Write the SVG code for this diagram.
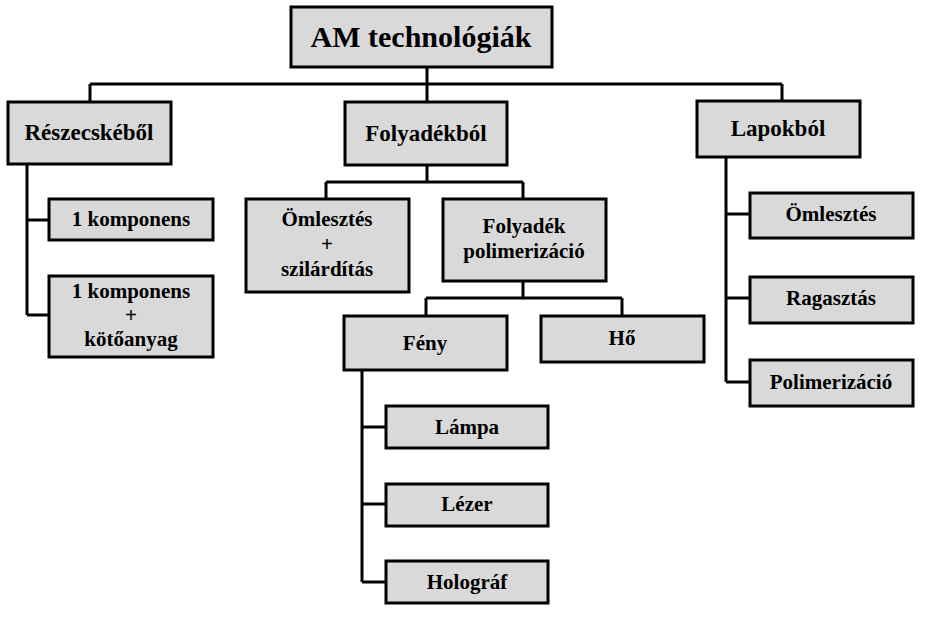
<svg xmlns="http://www.w3.org/2000/svg" width="950" height="625" viewBox="0 0 950 625">
<style>
rect{fill:#d9d9d9;stroke:#000;stroke-width:3}
text{font-family:"Liberation Serif","DejaVu Serif",serif;font-weight:bold;font-size:21px;text-anchor:middle;fill:#000}
.c path{fill:none;stroke:#000;stroke-width:3}
</style>
<rect x="0" y="0" width="950" height="625" style="fill:#fff;stroke:none"/>
<g class="c">
<path d="M427 67V84M90 84H782M90 84V102M427 84V102M782 84V101"/>
<path d="M27 164V315M27 220H49M27 315H49"/>
<path d="M427 165V182M326 182H523M326 182V199M523 182V199"/>
<path d="M523 281V298M426 298H622M426 298V316M622 298V316"/>
<path d="M362 370V582M362 427H386M362 504H386M362 582H386"/>
<path d="M726 157V382M726 214H750M726 298H750M726 382H750"/>
</g>
<g id="root"><rect x="291" y="7" width="261" height="60"/><text x="421" y="47" style="font-size:30px">AM technológiák</text></g>
<g id="reszecske"><rect x="8" y="102" width="163" height="62"/><text x="89" y="140" style="font-size:23px">Részecskéből</text></g>
<g id="folyadek"><rect x="345" y="102" width="162" height="63"/><text x="426" y="141" style="font-size:23px">Folyadékból</text></g>
<g id="lapok"><rect x="697" y="101" width="163" height="56"/><text x="778" y="136" style="font-size:23px">Lapokból</text></g>
<g id="k1"><rect x="49" y="199" width="164" height="41"/><text x="131" y="226">1 komponens</text></g>
<g id="k2"><rect x="49" y="276" width="164" height="81"/><text x="131" y="298">1 komponens</text><text x="131" y="322">+</text><text x="131" y="346">kötőanyag</text></g>
<g id="omlszil"><rect x="246" y="199" width="163" height="93"/><text x="327" y="226">Ömlesztés</text><text x="327" y="251">+</text><text x="327" y="276">szilárdítás</text></g>
<g id="polim"><rect x="443" y="199" width="163" height="82"/><text x="524" y="233">Folyadék</text><text x="524" y="258">polimerizáció</text></g>
<g id="feny"><rect x="344" y="316" width="163" height="54"/><text x="425" y="350">Fény</text></g>
<g id="ho"><rect x="541" y="316" width="163" height="46"/><text x="622" y="345">Hő</text></g>
<g id="lampa"><rect x="386" y="406" width="162" height="42"/><text x="467" y="434">Lámpa</text></g>
<g id="lezer"><rect x="386" y="484" width="162" height="42"/><text x="467" y="511">Lézer</text></g>
<g id="holograf"><rect x="386" y="561" width="162" height="42"/><text x="467" y="589">Holográf</text></g>
<g id="omleszt"><rect x="750" y="193" width="163" height="45"/><text x="831" y="221">Ömlesztés</text></g>
<g id="ragaszt"><rect x="750" y="277" width="163" height="46"/><text x="831" y="305">Ragasztás</text></g>
<g id="polimer"><rect x="750" y="360" width="163" height="46"/><text x="831" y="389">Polimerizáció</text></g>
</svg>
